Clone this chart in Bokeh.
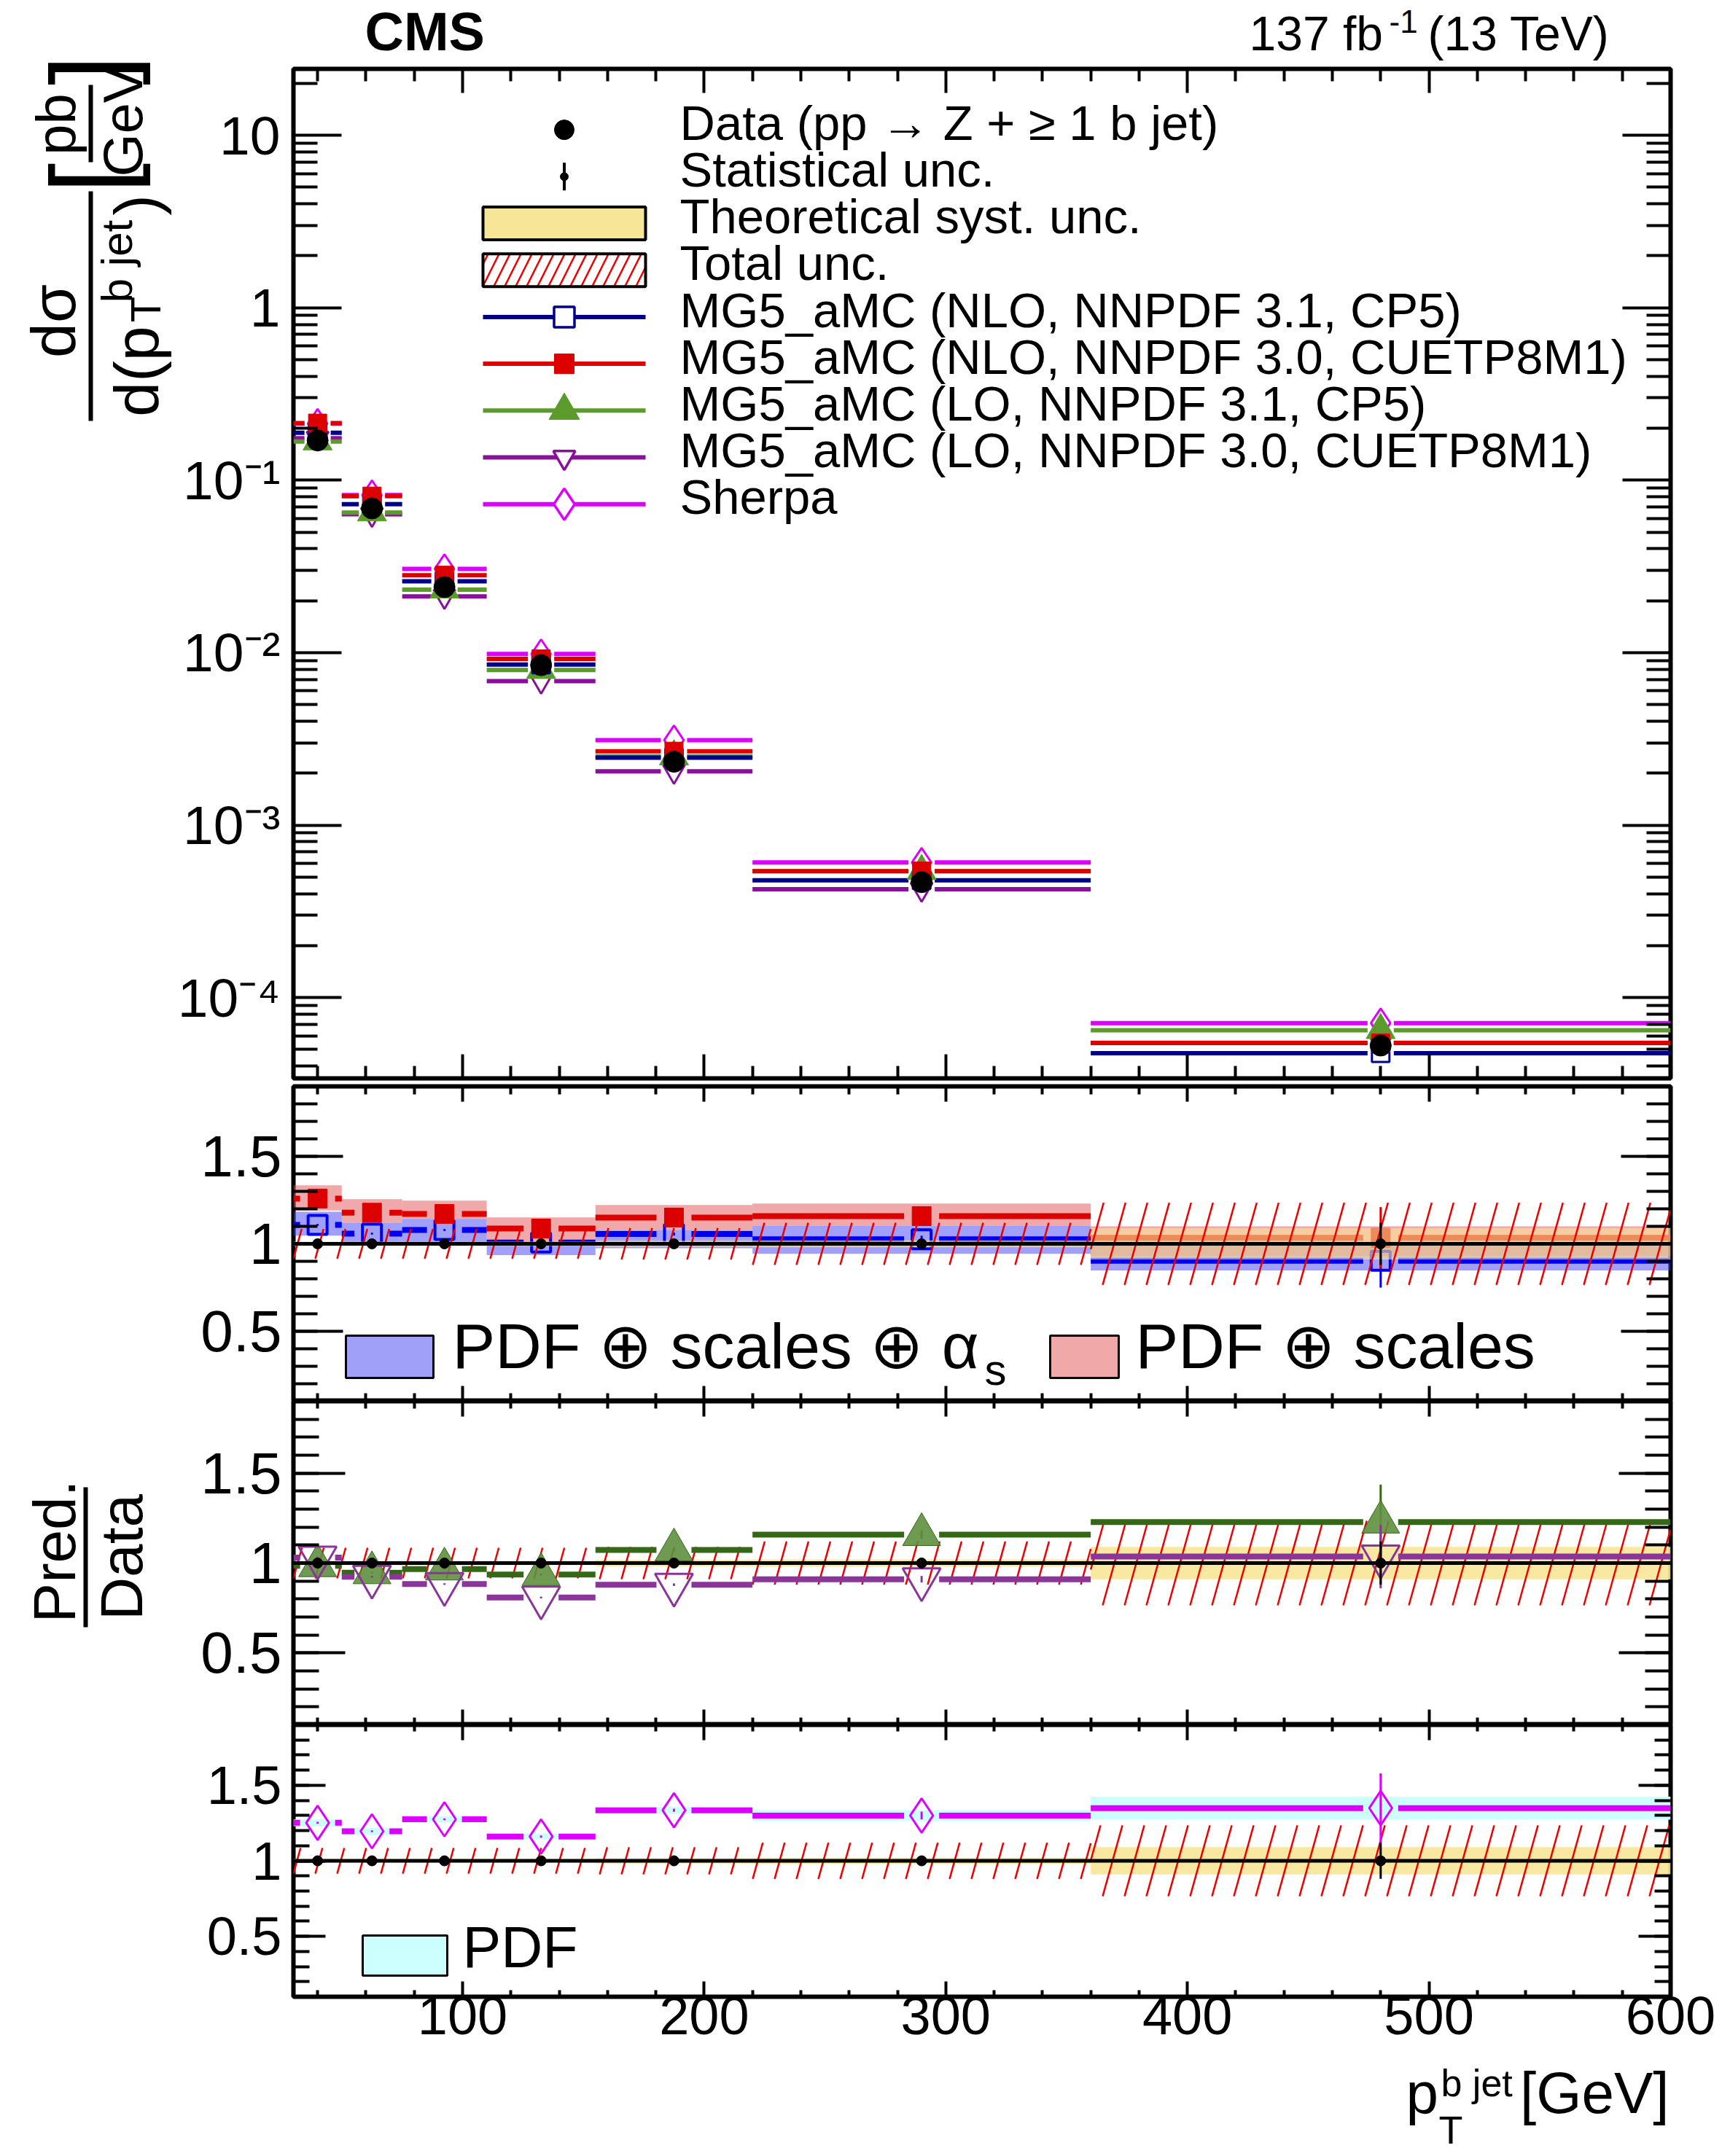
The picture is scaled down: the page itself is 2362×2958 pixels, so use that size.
import math
from bokeh.plotting import figure
from bokeh.layouts import column, row
from bokeh.models import (Range1d, FixedTicker, LinearAxis, LogAxis, Label,
                          CustomJSTickFormatter, LinearScale)
from bokeh.embed import file_html
from bokeh.resources import INLINE

FONT = "Liberation Sans"

# ---------------- data ----------------
bin_edges = [30, 50, 75, 110, 155, 220, 360, 600]
bin_centers = [40, 62.5, 92.5, 132.5, 187.5, 290, 480]

# measured differential cross section [pb/GeV]
data_xsec = [0.170, 0.0686, 0.0240, 0.00846, 0.00233, 4.67e-4, 5.27e-5]
data_stat_rel = [0.008, 0.008, 0.01, 0.012, 0.015, 0.03, 0.12]
theo_syst_rel = [0.012, 0.012, 0.012, 0.012, 0.018, 0.02, 0.09]
total_unc_rel = [0.085, 0.085, 0.085, 0.085, 0.09, 0.12, 0.235]

# predictions [pb/GeV]
mg_nlo_31 = [0.1884, 0.0726, 0.0259, 0.00852, 0.00246, 4.79e-4, 4.76e-5]
mg_nlo_30 = [0.2140, 0.0808, 0.0281, 0.00920, 0.00268, 5.41e-4, 5.45e-5]
mg_lo_31 = [0.1675, 0.0649, 0.0232, 0.00792, 0.00250, 5.41e-4, 6.47e-5]
mg_lo_30 = [0.1751, 0.0634, 0.0212, 0.00684, 0.00205, 4.25e-4, 5.46e-5]
sherpa = [0.2128, 0.0820, 0.0306, 0.00982, 0.00311, 6.07e-4, 7.11e-5]
pred_stat_rel = [0.005, 0.005, 0.005, 0.006, 0.008, 0.02, 0.17]

# theory uncertainty bands on Pred./Data
nlo30_band_lo = [1.191, 1.119, 1.143, 1.015, 1.079, 1.103, 0.93]
nlo30_band_hi = [1.334, 1.255, 1.247, 1.151, 1.222, 1.230, 1.10]
nlo31_band_lo = [1.047, 1.000, 1.000, 0.935, 0.975, 0.943, 0.848]
nlo31_band_hi = [1.183, 1.119, 1.143, 1.015, 1.079, 1.103, 1.000]
sherpa_pdf_rel = [0.022, 0.022, 0.02, 0.02, 0.023, 0.037, 0.076]

main_yticks = [1e-4, 1e-3, 1e-2, 1e-1, 1, 10]
ratio_yticks = [0.5, 1, 1.5]
xticks = [100, 200, 300, 400, 500, 600]

legend_main = ["Data (pp \u2192 Z + \u2265 1 b jet)", "Statistical unc.",
               "Theoretical syst. unc.", "Total unc.",
               "MG5_aMC (NLO, NNPDF 3.1, CP5)", "MG5_aMC (NLO, NNPDF 3.0, CUETP8M1)",
               "MG5_aMC (LO, NNPDF 3.1, CP5)", "MG5_aMC (LO, NNPDF 3.0, CUETP8M1)",
               "Sherpa"]

# ---------------- geometry (page px, origin at top-left of the page) ----------------
PAGE_W = 2354
STRIP_W = 236
FL, FR = 402, 2291
FW = FR - FL
XMIN, XMAX = 30, 600
PXG = FW / (XMAX - XMIN)

C_NAVY = "#00008f"
C_BLUE = "#0000ee"
C_RED = "#dd0000"
C_GREEN = "#5b9b2b"
C_DGREEN = "#356816"
C_PURPLE = "#88109a"
C_LPURPLE = "#8a3599"
C_MAG = "#dd00ff"
C_YEL = "#f8e698"
C_HATCH = "#ee0000"


class Area:
    """Maps page pixels to the data coordinates of a figure region."""
    def __init__(self, fig, x0, yb, named=False):
        self.fig, self.x0, self.yb = fig, x0, yb
        self.kw = dict(x_range_name="px", y_range_name="py") if named else {}

    def x(self, X):
        return X - self.x0

    def y(self, Y):
        return self.yb - Y


def lab(area, text, X, Y, size, bold=False, align="left", angle=0.0, color="black"):
    area.fig.add_layout(Label(x=area.x(X), y=area.y(Y), text=text, text_font=FONT,
                              text_font_size=f"{size}px",
                              text_font_style="bold" if bold else "normal",
                              text_align=align, text_baseline="middle", angle=angle,
                              text_color=color, **area.kw))


def bar(area, x0, x1, y0, y1, color="black"):
    area.fig.quad(left=[area.x(x0)], right=[area.x(x1)], bottom=[area.y(y1)], top=[area.y(y0)],
                  fill_color=color, line_color=None, **area.kw)


def strip(w, h, left=0, right=0):
    """Plain text strip; its frame spans page x (start+left .. start+w-right)."""
    fw = w - left - right
    s = figure(width=w, height=h, x_range=Range1d(0, fw), y_range=Range1d(0, h),
               output_backend="svg", toolbar_location=None, title=None,
               x_axis_location=None, y_axis_location=None,
               min_border_left=left, min_border_right=right, min_border_top=0,
               min_border_bottom=0)
    s.outline_line_color = None
    s.grid.visible = False
    s.background_fill_color = "white"
    s.border_fill_color = "white"
    return s


def make_fig(width, height, left, top, bottom, y_range, log=False):
    p = figure(width=width, height=height, x_range=Range1d(XMIN, XMAX), y_range=y_range,
               y_axis_type="log" if log else "linear", output_backend="svg",
               toolbar_location=None, title=None,
               min_border_left=left, min_border_right=PAGE_W - FR,
               min_border_top=top, min_border_bottom=bottom)
    p.outline_line_color = "black"
    p.outline_line_width = 6
    p.xgrid.visible = False
    p.ygrid.visible = False
    p.background_fill_color = "white"
    p.border_fill_color = "white"
    fh = height - top - bottom
    p.extra_x_ranges = {"px": Range1d(0, FW)}
    p.extra_y_ranges = {"py": Range1d(0, fh)}
    p.extra_x_scales = {"px": LinearScale()}
    p.extra_y_scales = {"py": LinearScale()}
    return p


EMPTY_FMT = CustomJSTickFormatter(code="return '';")


def style_axis(ax, major, minor, lab_size=None, standoff=0):
    ax.axis_line_color = None
    ax.major_tick_in = major
    ax.major_tick_out = 0
    ax.minor_tick_in = minor
    ax.minor_tick_out = 0
    ax.major_tick_line_width = 4
    ax.minor_tick_line_width = 4
    ax.major_tick_line_color = "black"
    ax.minor_tick_line_color = "black"
    ax.major_label_text_font = FONT
    ax.major_label_text_color = "black"
    ax.axis_label = None
    if lab_size is None:
        ax.formatter = EMPTY_FMT
        ax.major_label_text_font_size = "1px"
        ax.major_label_standoff = 0
    else:
        ax.major_label_text_font_size = f"{lab_size}px"
        ax.major_label_standoff = standoff


def x_ticker():
    return FixedTicker(ticks=xticks, minor_ticks=[v for v in range(40, 600, 20) if v % 100])


def setup_axes(p, ymaj, ymin, xmaj, xmin, yticker, yfmt, ylab=None, ystand=0,
               xlab=None, xstand=0, log=False):
    yax = p.yaxis[0]
    yax.ticker = yticker
    yax.formatter = yfmt
    style_axis(yax, ymaj, ymin, ylab, ystand)
    ax_r = (LogAxis if log else LinearAxis)(ticker=yticker)
    style_axis(ax_r, ymaj, ymin)
    p.add_layout(ax_r, "right")
    xax = p.xaxis[0]
    xax.ticker = x_ticker()
    style_axis(xax, xmaj, xmin, xlab, xstand)
    ax_t = LinearAxis(ticker=x_ticker())
    style_axis(ax_t, xmaj, xmin)
    p.add_layout(ax_t, "above")


def gapped(vals, gap_px):
    g = gap_px / PXG
    x0, x1, y = [], [], []
    for lo, hi, c, v in zip(bin_edges[:-1], bin_edges[1:], bin_centers, vals):
        if c - g > lo:
            x0.append(lo); x1.append(c - g); y.append(v)
        if c + g < hi:
            x0.append(c + g); x1.append(hi); y.append(v)
    return x0, x1, y


def hatch(p, lo_vals, hi_vals, px_per_unit, spacing=30.0, slope=3.6):
    xs, ys = [], []
    step = spacing / PXG
    for a, b, lo, hi in zip(bin_edges[:-1], bin_edges[1:], lo_vals, hi_vals):
        h_px = (hi - lo) * px_per_unit
        w = h_px / slope / PXG
        k0 = math.floor((a - w - XMIN) / step) - 1
        k1 = math.ceil((b - XMIN) / step) + 1
        for k in range(k0, k1 + 1):
            s = XMIN + k * step
            t0 = max(0.0, (a - s) / w)
            t1 = min(1.0, (b - s) / w)
            if t1 > t0:
                xs.append([s + w * t0, s + w * t1])
                ys.append([lo + (hi - lo) * t0, lo + (hi - lo) * t1])
    p.multi_line(xs, ys, line_color=C_HATCH, line_width=2.5)


ratio_fmt = CustomJSTickFormatter(code="return tick.toString();")
log_fmt = CustomJSTickFormatter(code="""
const e = Math.round(Math.log10(tick));
if (e == 0) { return '1'; }
if (e == 1) { return '10'; }
const sup = {'-':'\u207b','0':'\u2070','1':'\u00b9','2':'\u00b2','3':'\u00b3','4':'\u2074','5':'\u2075','6':'\u2076','7':'\u2077','8':'\u2078','9':'\u2079'};
return '10' + String(e).split('').map(c => sup[c]).join('');
""")

A = math.pi / 2

# ================= header strip + left title strip =================
T = strip(PAGE_W - STRIP_W, 88, left=FL - STRIP_W, right=PAGE_W - FR)   # frame: page x 402..2291
tA = Area(T, FL, 88)
lab(tA, "CMS", 500, 43, 74, bold=True)
lab(tA, "137 fb", 1713, 45, 66)
lab(tA, "-1", 1905, 29, 44)
lab(tA, "(13 TeV)", 1958, 45, 66)

L1 = strip(STRIP_W, 1484)                         # page x 0..236, y 0..1484
lA = Area(L1, 0, 1484)
TF = 86
lab(lA, "d\u03c3", 72, 440, TF, align="center", angle=A)
bar(lA, 121, 127, 262, 577)
lab(lA, "d(p", 186, 509, TF, align="center", angle=A)
lab(lA, "T", 199, 424, 58, align="center", angle=A)
lab(lA, "b jet", 160, 358, 60, align="center", angle=A)
lab(lA, ")", 186, 281, TF, align="center", angle=A)
lab(lA, "[", 122, 244, 150, align="center", angle=A)
lab(lA, "pb", 76, 170, 76, align="center", angle=A)
bar(lA, 121, 127, 116, 222)
lab(lA, "GeV", 168, 166, 76, align="center", angle=A)
lab(lA, "]", 122, 96, 150, align="center", angle=A)

# ================= main panel =================
MAIN_TOP, MAIN_FT, MAIN_FB, MAIN_BOT = 88, 94, 1479, 1484
p1 = make_fig(PAGE_W - STRIP_W, MAIN_BOT - MAIN_TOP, FL - STRIP_W, MAIN_FT - MAIN_TOP,
              MAIN_BOT - MAIN_FB, Range1d(3.4e-5, 24.25), log=True)
a1 = Area(p1, FL, MAIN_FB, named=True)
log_minor = [k * 10.0 ** e for e in range(-5, 2) for k in range(2, 10)]
setup_axes(p1, 66, 33, 33, 17,
           FixedTicker(ticks=main_yticks, minor_ticks=log_minor), log_fmt,
           ylab=75, ystand=18, log=True)

preds = [
    (sherpa, C_MAG, "diamond", 40, None, 3),
    (mg_lo_30, C_PURPLE, "inverted_triangle", 30, None, 3),
    (mg_lo_31, C_GREEN, "triangle", 40, C_GREEN, 1),
    (mg_nlo_31, C_NAVY, "square", 24, None, 3),
    (mg_nlo_30, C_RED, "square", 25, C_RED, 1),
]
for vals, col, mk, sz, fill, lw in preds:
    x0, x1, y = gapped(vals, 18)
    p1.segment(x0=x0, y0=y, x1=x1, y1=y, line_color=col, line_width=6)
for vals, col, mk, sz, fill, lw in preds:
    p1.scatter(bin_centers, vals, marker=mk, size=sz, line_color=col, line_width=lw,
               fill_color=fill)
p1.scatter(bin_centers, data_xsec, marker="circle", size=29, fill_color="black",
           line_color="black")

# legend
LX0, LX1, LXC = 662, 885, 773.5
for i, t in enumerate(legend_main):
    lab(a1, t, 932, 167.7 + 64.2 * i, 67)


def ly(i):
    return a1.y(177.6 + 64.2 * i)


k1 = a1.kw
p1.scatter([a1.x(LXC)], [ly(0)], marker="circle", size=27, color="black", **k1)
p1.segment(x0=[a1.x(LXC)], y0=[ly(1) - 19], x1=[a1.x(LXC)], y1=[ly(1) + 19], line_color="black",
           line_width=4, **k1)
p1.scatter([a1.x(LXC)], [ly(1)], marker="circle", size=11, color="black", **k1)
p1.quad(left=[a1.x(LX0)], right=[a1.x(LX1)], bottom=[ly(2) - 22.5], top=[ly(2) + 22.5],
        fill_color=C_YEL, line_color="black", line_width=4, **k1)
p1.quad(left=[a1.x(LX0)], right=[a1.x(LX1)], bottom=[ly(3) - 22.5], top=[ly(3) + 22.5],
        fill_color="white", hatch_pattern="/", hatch_color=C_HATCH, hatch_scale=30,
        hatch_weight=2.5, line_color="black", line_width=4, **k1)
leg_styles = [(C_NAVY, "square", 28, "white", 3.5), (C_RED, "square", 27, C_RED, 1),
              (C_GREEN, "triangle", 42, C_GREEN, 1), (C_PURPLE, "inverted_triangle", 30, "white", 3.5),
              (C_MAG, "diamond", 43, "white", 3.5)]
for j, (col, mk, sz, fill, lw) in enumerate(leg_styles):
    r = 4 + j
    p1.segment(x0=[a1.x(LX0)], y0=[ly(r)], x1=[a1.x(LX1)], y1=[ly(r)], line_color=col,
               line_width=6, **k1)
    p1.scatter([a1.x(LXC)], [ly(r)], marker=mk, size=sz, line_color=col, fill_color=fill,
               line_width=lw, **k1)


# ================= ratio panels =================
def ratio_fig(width, top, ft, fb, bot, left, ymaj, ymin, labsize, stand, xmaj, xmin, xlab=None):
    p = make_fig(width, bot - top, left, ft - top, bot - fb, Range1d(0.1, 1.9))
    setup_axes(p, ymaj, ymin, xmaj, xmin,
               FixedTicker(ticks=ratio_yticks, minor_ticks=[round(0.1 * k, 1) for k in range(1, 20)]),
               ratio_fmt, ylab=labsize, ystand=stand, xlab=xlab, xstand=0)
    return p


def yellow(p, alpha=0.9):
    lo = [1 - v for v in theo_syst_rel]
    hi = [1 + v for v in theo_syst_rel]
    p.quad(left=bin_edges[:-1], right=bin_edges[1:], bottom=lo, top=hi, fill_color=C_YEL,
           fill_alpha=alpha, line_color=None)


def data_hatch(p, ppu):
    lo = [1 - v for v in total_unc_rel]
    hi = [1 + v for v in total_unc_rel]
    hatch(p, lo, hi, ppu)


def data_ratio(p):
    p.segment(x0=[XMIN], y0=[1], x1=[XMAX], y1=[1], line_color="black", line_width=5)
    p.segment(x0=bin_centers, y0=[1 - s for s in data_stat_rel], x1=bin_centers,
              y1=[1 + s for s in data_stat_rel], line_color="black", line_width=3)
    p.scatter(bin_centers, [1] * len(bin_centers), marker="circle", size=14, color="black")


def ratio_of(vals):
    return [v / d for v, d in zip(vals, data_xsec)]


def pred_ratio(p, vals, col, mk, sz, fill, lw, gap=24, width=8, fill_alpha=1.0):
    r = ratio_of(vals)
    x0, x1, y = gapped(r, gap)
    p.segment(x0=x0, y0=y, x1=x1, y1=y, line_color=col, line_width=width)
    p.segment(x0=bin_centers, y0=[v * (1 - s) for v, s in zip(r, pred_stat_rel)],
              x1=bin_centers, y1=[v * (1 + s) for v, s in zip(r, pred_stat_rel)],
              line_color=col, line_width=3)
    p.scatter(bin_centers, r, marker=mk, size=sz, line_color=col, fill_color=fill,
              line_width=lw, fill_alpha=fill_alpha)


# ---- ratio 1 : NLO ----
R1 = dict(top=1484, ft=1490, fb=1922, bot=1922)
p2 = ratio_fig(PAGE_W, R1["top"], R1["ft"], R1["fb"], R1["bot"], FL, 68, 33, 80, 16, 21, 11)
a2 = Area(p2, FL, R1["fb"], named=True)
ppu2 = (R1["fb"] - R1["ft"]) / 1.8
p2.quad(left=bin_edges[:-1], right=bin_edges[1:], bottom=nlo31_band_lo, top=nlo31_band_hi,
        fill_color="#4141f5", fill_alpha=0.5, line_color=None)
p2.quad(left=bin_edges[:-1], right=bin_edges[1:], bottom=nlo30_band_lo, top=nlo30_band_hi,
        fill_color="#e15151", fill_alpha=0.5, line_color=None)
pred_ratio(p2, mg_nlo_31, C_BLUE, "square", 26, None, 4)
pred_ratio(p2, mg_nlo_30, C_RED, "square", 26, C_RED, 1)
yellow(p2, alpha=0.6)
data_hatch(p2, ppu2)
data_ratio(p2)
p2.quad(left=[a2.x(474)], right=[a2.x(594)], bottom=[a2.y(1890)], top=[a2.y(1832)],
        fill_color="#a0a0f8", line_color="black", line_width=3, **a2.kw)
p2.quad(left=[a2.x(1440)], right=[a2.x(1534)], bottom=[a2.y(1890)], top=[a2.y(1832)],
        fill_color="#f0a8a8", line_color="black", line_width=3, **a2.kw)
lab(a2, "PDF \u2295 scales \u2295 \u03b1", 620, 1846, 88)
lab(a2, "s", 1350, 1879, 60)
lab(a2, "PDF \u2295 scales", 1557, 1846, 88)

# ---- ratio 2 : LO ----
R2 = dict(top=1922, ft=1922, fb=2366, bot=2366)
L3 = strip(STRIP_W, R2["bot"] - R2["top"])
l3A = Area(L3, 0, R2["bot"])
lab(l3A, "Pred.", 74, 2128, 82, align="center", angle=A)
bar(l3A, 114, 120, 2040, 2232)
lab(l3A, "Data", 166, 2136, 82, align="center", angle=A)

p3 = ratio_fig(PAGE_W - STRIP_W, R2["top"], R2["ft"], R2["fb"], R2["bot"], FL - STRIP_W,
               71, 35, 80, 16, 21, 10)
ppu3 = (R2["fb"] - R2["ft"]) / 1.8
yellow(p3)
data_hatch(p3, ppu3)
pred_ratio(p3, mg_lo_31, C_DGREEN, "triangle", 52, "#5f8f3f", 1, fill_alpha=0.9)
pred_ratio(p3, mg_lo_30, C_LPURPLE, "inverted_triangle", 52, None, 3)
data_ratio(p3)

# ---- ratio 3 : Sherpa ----
R3 = dict(top=2366, ft=2366, fb=2739, bot=2826)
p4 = ratio_fig(PAGE_W, R3["top"], R3["ft"], R3["fb"], R3["bot"], FL, 44, 22, 74, 16, 21, 9, xlab=74)
a4 = Area(p4, FL, R3["fb"], named=True)
ppu4 = (R3["fb"] - R3["ft"]) / 1.8
sr = ratio_of(sherpa)
p4.quad(left=bin_edges[:-1], right=bin_edges[1:], bottom=[v - e for v, e in zip(sr, sherpa_pdf_rel)],
        top=[v + e for v, e in zip(sr, sherpa_pdf_rel)], fill_color="#ccffff", line_color=None)
yellow(p4)
data_hatch(p4, ppu4)
pred_ratio(p4, sherpa, C_MAG, "diamond", 47, None, 3)
data_ratio(p4)
p4.quad(left=[a4.x(497)], right=[a4.x(613)], bottom=[a4.y(2710)], top=[a4.y(2655)],
        fill_color="#ccffff", line_color="black", line_width=3, **a4.kw)
lab(a4, "PDF", 634, 2671, 79)

# ---- x-axis title strip (frame aligned with the panels: page x 402..2291) ----
B_BOT = 2954
B = strip(PAGE_W, B_BOT - R3["bot"], left=FL, right=PAGE_W - FR)
bA = Area(B, FL, B_BOT)
lab(bA, "p", 1928, 2871, 80)
lab(bA, "T", 1973, 2921, 54)
lab(bA, "b jet", 1976, 2857, 52)
lab(bA, "[GeV]", 2289, 2871, 80, align="right")

layout = column(row(L1, column(T, p1, spacing=0), spacing=0),
                p2,
                row(L3, p3, spacing=0),
                p4, B, spacing=0)
open("out.html", "w").write(file_html(layout, INLINE))
